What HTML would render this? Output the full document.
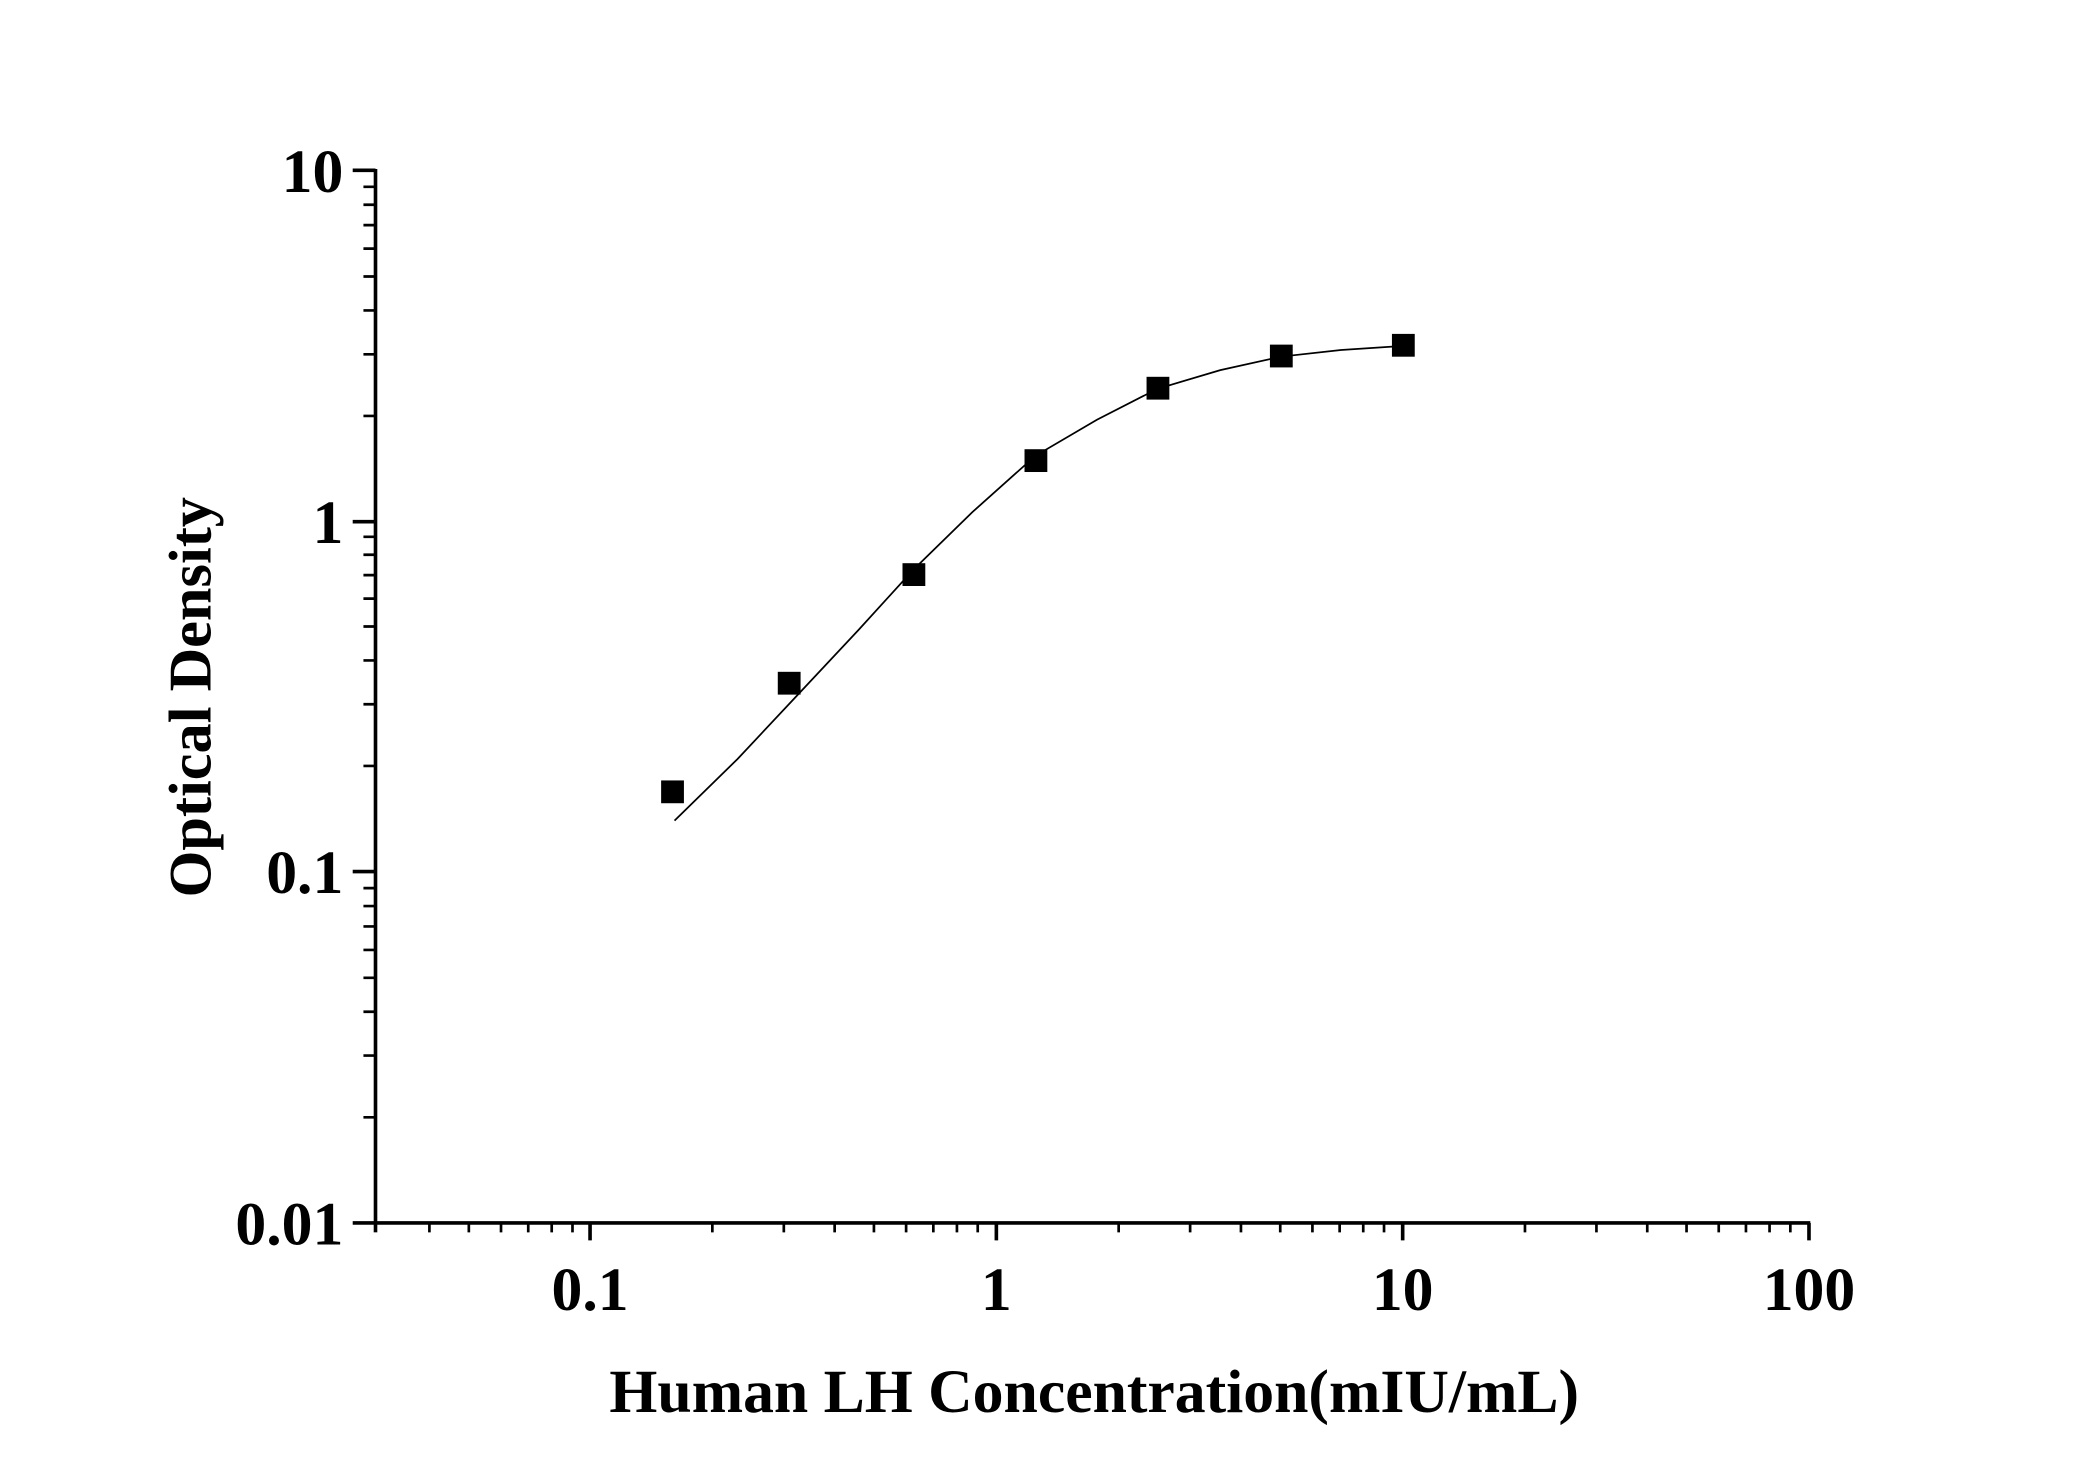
<!DOCTYPE html>
<html><head><meta charset="utf-8"><style>html,body{margin:0;padding:0;background:#fff}svg{display:block}</style></head>
<body>
<svg width="2100" height="1467" viewBox="0 0 1566 1094" xmlns="http://www.w3.org/2000/svg" font-family="Liberation Serif, serif" font-weight="bold">
<rect width="1566" height="1094" fill="#fff"/>
<g stroke="#000" stroke-width="2.7" fill="none">
<line x1="280" y1="912" x2="1350" y2="912"/>
<line x1="280" y1="912" x2="280" y2="126"/>
<line x1="263" y1="127" x2="280" y2="127"/><line x1="263" y1="389" x2="280" y2="389"/><line x1="263" y1="650" x2="280" y2="650"/><line x1="263" y1="912" x2="280" y2="912"/>
<line x1="440" y1="912" x2="440" y2="925"/><line x1="743" y1="912" x2="743" y2="925"/><line x1="1046" y1="912" x2="1046" y2="925"/><line x1="1349" y1="912" x2="1349" y2="925"/><line x1="280" y1="912" x2="280" y2="919"/>
</g>
<g stroke="#000" stroke-width="2" fill="none">
<path d="
M271 833.2H280 M271 787.2H280 M271 754.5H280 M271 729.2H280 M271 708.4H280 M271 690.9H280 M271 675.7H280 M271 662.3H280
M271 571.2H280 M271 525.2H280 M271 492.5H280 M271 467.2H280 M271 446.4H280 M271 428.9H280 M271 413.7H280 M271 400.3H280
M271 310.2H280 M271 264.2H280 M271 231.5H280 M271 206.2H280 M271 185.4H280 M271 167.9H280 M271 152.7H280 M271 139.3H280
M320.2 912V919 M349.6 912V919 M373.6 912V919 M393.9 912V919 M411.4 912V919 M426.9 912V919
M531.2 912V919 M584.5 912V919 M622.4 912V919 M651.7 912V919 M675.7 912V919 M696.0 912V919 M713.6 912V919 M729.1 912V919
M834.2 912V919 M887.5 912V919 M925.4 912V919 M954.7 912V919 M978.7 912V919 M999.0 912V919 M1016.6 912V919 M1032.1 912V919
M1137.2 912V919 M1190.5 912V919 M1228.4 912V919 M1257.7 912V919 M1281.7 912V919 M1302.0 912V919 M1319.6 912V919 M1335.1 912V919"/>
</g>
<polyline fill="none" stroke="#000" stroke-width="1.3" points="503,612 550,566 595,518 640,470 681,425 725,382 772,340 818,313 863,290 910,276 955,266 1000,261 1046,258"/>
<g fill="#000">
<rect x="493" y="582" width="17" height="17"/>
<rect x="580" y="501" width="17" height="17"/>
<rect x="673" y="420" width="17" height="17"/>
<rect x="764" y="335" width="17" height="17"/>
<rect x="855" y="281" width="17" height="17"/>
<rect x="947" y="257" width="17" height="17"/>
<rect x="1038" y="249" width="17" height="17"/>
</g>
<g font-size="46" text-anchor="end">
<text x="256" y="143">10</text>
<text x="256" y="405">1</text>
<text x="256" y="666">0.1</text>
<text x="256" y="928">0.01</text>
</g>
<g font-size="46" text-anchor="middle">
<text x="440" y="977">0.1</text>
<text x="743" y="977">1</text>
<text x="1046" y="977">10</text>
<text x="1349" y="977">100</text>
</g>
<text x="816" y="1053" font-size="46" text-anchor="middle">Human LH Concentration(mIU/mL)</text>
<text transform="translate(157,520) rotate(-90)" font-size="45" text-anchor="middle">Optical Density</text>
</svg>
</body></html>
